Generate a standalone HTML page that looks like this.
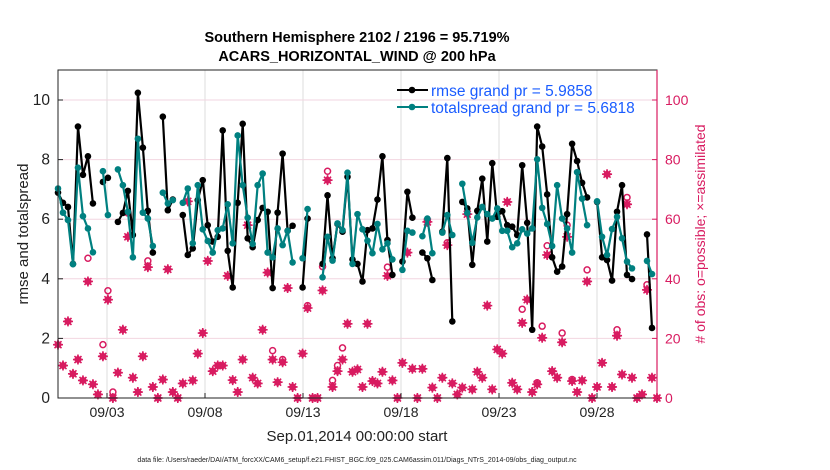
<!DOCTYPE html>
<html><head><meta charset="utf-8"><style>
body{margin:0;background:#fff;}
svg{display:block;font-family:"Liberation Sans",Arial,sans-serif;}
</style></head><body>
<svg id="chart" width="830" height="470">
<text x="357" y="42" text-anchor="middle" font-size="14.5" font-weight="bold">Southern Hemisphere 2102 / 2196 = 95.719%</text>
<text x="357" y="61" text-anchor="middle" font-size="14.5" font-weight="bold">ACARS_HORIZONTAL_WIND @ 200 hPa</text>
<g id="grid"></g>
<g id="marks"></g>
<rect x="58" y="70" width="599" height="328" fill="none" stroke="#222" stroke-width="1"/>
<line x1="657" y1="70" x2="657" y2="398" stroke="#d81b60" stroke-width="1.2"/>
<g id="axes"></g>
<text transform="translate(28,234) rotate(-90)" text-anchor="middle" font-size="15" fill="#222">rmse and totalspread</text>
<text transform="translate(705,234) rotate(-90)" text-anchor="middle" font-size="14" fill="#d81b60"># of obs: o=possible; ×=assimilated</text>
<text x="357" y="441" text-anchor="middle" font-size="15" fill="#222">Sep.01,2014 00:00:00 start</text>
<text x="357" y="462" text-anchor="middle" font-size="7" fill="#222">data file: /Users/raeder/DAI/ATM_forcXX/CAM6_setup/f.e21.FHIST_BGC.f09_025.CAM6assim.011/Diags_NTrS_2014-09/obs_diag_output.nc</text>
<g>
<g>
<line x1="397" y1="90" x2="428" y2="90" stroke="#000" stroke-width="2"/><circle cx="412" cy="90" r="3.3" fill="#000"/>
<text x="431" y="96" font-size="15.5" fill="#1a5cff">rmse grand pr = 5.9858</text></g>
<g>
<line x1="397" y1="107" x2="428" y2="107" stroke="#008080" stroke-width="2"/><circle cx="412" cy="107" r="3.3" fill="#008080"/>
<text x="431" y="113" font-size="15.5" fill="#1a5cff">totalspread grand pr = 5.6818</text></g>
</g>
</svg>
<script>
const rmse=[6.89,6.55,6.41,4.50,9.11,7.49,8.11,6.53,null,7.25,7.39,null,5.91,6.21,6.95,5.47,10.24,8.40,6.28,4.88,null,9.44,6.30,6.66,null,6.14,4.80,5.02,6.64,7.31,5.80,5.25,5.41,8.98,4.94,3.71,6.55,9.20,5.36,5.06,5.97,6.38,6.25,3.69,6.22,8.20,5.61,5.78,null,3.71,6.02,null,null,4.50,6.80,4.69,5.84,5.58,7.42,4.65,4.50,3.91,5.63,5.69,6.66,8.11,5.30,4.13,null,4.58,6.92,6.05,null,4.88,4.69,3.96,null,5.58,8.05,2.57,null,6.58,6.36,4.47,6.28,7.36,5.25,7.88,6.08,6.27,5.80,5.75,5.47,7.81,5.88,2.29,9.11,8.44,6.83,4.72,4.24,4.41,6.17,8.53,7.95,7.22,6.73,null,6.58,4.72,4.63,3.94,6.25,7.14,4.13,3.99,null,null,5.49,2.35,null];
const spread=[7.03,6.22,5.97,4.49,7.73,6.10,5.69,4.89,null,7.61,6.14,null,7.67,7.14,6.25,4.72,8.70,6.22,6.02,5.10,null,6.89,6.53,6.64,null,6.55,7.03,5.19,7.14,5.66,5.27,4.88,5.63,5.69,6.50,5.19,8.81,7.14,6.05,5.17,7.14,7.53,4.88,4.72,5.69,5.13,5.61,4.55,null,4.69,6.34,null,null,4.05,5.41,4.61,5.86,5.63,7.56,4.50,6.17,5.66,5.28,4.86,5.84,4.99,5.19,4.65,null,4.30,5.61,5.55,null,5.43,6.02,4.86,null,5.55,6.14,5.47,null,7.19,6.21,5.21,6.06,6.41,6.17,6.02,6.36,5.61,5.61,5.06,5.19,5.66,5.52,5.69,8.01,6.38,5.84,5.10,7.14,6.02,5.69,4.88,7.58,6.69,5.80,null,6.60,5.41,4.80,5.67,6.08,5.36,4.58,4.35,null,null,4.60,4.16,null];
const assimilated=[17.9,10.9,25.7,8.1,12.9,5.9,39.1,4.6,1.2,14.0,33.0,0,8.5,22.9,54.1,6.8,2.0,14.0,43.9,3.7,0,6.2,43.2,2.0,0,4.9,66.0,5.9,14.9,21.8,46.0,9.0,10.9,10.9,41.0,6.0,2.0,12.9,58.0,6.8,4.9,22.9,42.1,12.9,5.3,12.0,36.9,3.7,0,14.9,30.2,0,0,36.1,73.1,3.7,9.0,12.9,24.9,8.8,9.6,3.7,24.9,5.7,4.9,8.8,41.0,5.9,0,11.8,48.8,9.8,0,9.8,59.1,3.5,0,6.8,51.3,4.9,1.2,3.5,61.7,2.9,8.8,6.8,31.0,2.9,16.3,14.9,65.8,5.1,2.9,25.2,33.0,2.0,4.6,20.2,48.0,9.0,6.8,18.7,54.1,5.7,2.0,5.9,39.1,0,3.7,11.8,75.1,3.7,20.9,7.9,65.0,6.8,0,1.2,36.3,6.8,0];
const possibleIdx=[6,9,10,11,14,18,43,45,50,53,54,55,56,57,66,74,78,93,96,97,98,101,102,103,106,112,114,118];
const possibleVal=[46.9,17.9,36.0,2.0,62.1,46.0,15.9,12.9,31.0,44.1,76.1,5.9,10.9,16.8,43.9,59.7,52.1,29.8,5.1,24.1,51.1,21.8,58.0,6.2,43.0,22.9,67.3,38.0];
const tickDays=[2,7,12,17,22,27];
const tickLabels=["09/03","09/08","09/13","09/18","09/23","09/28"];
const leftTicks=[0,2,4,6,8,10];
const rightTicks=[0,20,40,60,80,100];
const firstDay=-0.5, stepDay=30.56/120;

const NS="http://www.w3.org/2000/svg";
const xDay=d=>107+(d-2)*19.6;
const xIdx=i=>xDay(firstDay+i*stepDay);
const yL=v=>398-v*29.8;
const yR=v=>398-v*2.98;
function mk(tag,attrs,parent){const e=document.createElementNS(NS,tag);for(const k in attrs)e.setAttribute(k,attrs[k]);parent.appendChild(e);return e;}
const grid=document.getElementById('grid'),marks=document.getElementById('marks'),axes=document.getElementById('axes');
tickDays.forEach((d,k)=>{
  const g=mk('line',{x1:xDay(d),x2:xDay(d),y1:70,y2:398,stroke:'#ddd','stroke-width':1},grid);
  
  
  const t=mk('line',{x1:xDay(d),x2:xDay(d),y1:398,y2:393,stroke:'#222'},axes);
  
  
  const l=mk('text',{x:xDay(d),y:417,'text-anchor':'middle','font-size':14,fill:'#222'},axes);
  l.textContent=tickLabels[k];
  
  
});
rightTicks.forEach(v=>{
  if(v>0&&v<110){const g=mk('line',{x1:58,x2:657,y1:yR(v),y2:yR(v),stroke:'#f2d6e0','stroke-width':1},grid);
  
  }
  const l=mk('text',{x:665,y:yR(v)+5,'font-size':14,fill:'#d81b60'},axes);
  l.textContent=v;
  
  
  const t=mk('line',{x1:652,x2:657,y1:yR(v),y2:yR(v),stroke:'#d81b60'},axes);
  
  
});
leftTicks.forEach(v=>{
  const l=mk('text',{x:50,y:yL(v)+5,'text-anchor':'end','font-size':15.5,fill:'#222'},axes);
  l.textContent=v;
  
  
  const t=mk('line',{x1:58,x2:63,y1:yL(v),y2:yL(v),stroke:'#222'},axes);
  
  
});
const red='#d81b60';
assimilated.forEach((v,i)=>{
  if(v==null)return;
  const x=xIdx(i),y=yR(v);
  const g=mk('g',{},marks);
  
  
  mk('path',{d:`M${x-4.5},${y}L${x},${y-4.5}L${x+4.5},${y}L${x},${y+4.5}Z`,fill:red},g);
  mk('path',{d:`M${x-5},${y}H${x+5}M${x},${y-5}V${y+5}M${x-3.5},${y-3.5}L${x+3.5},${y+3.5}M${x-3.5},${y+3.5}L${x+3.5},${y-3.5}`,stroke:red,'stroke-width':1.6},g);
});
possibleIdx.forEach((i,k)=>{
  const c=mk('circle',{cx:xIdx(i),cy:yR(possibleVal[k]),r:3,fill:'none',stroke:red,'stroke-width':1.5},marks);
  
  
});
function series(arr,color,name){
  let d='',pen=false;
  arr.forEach((v,i)=>{if(v==null){pen=false;return;}d+=(pen?'L':'M')+xIdx(i).toFixed(1)+','+yL(v).toFixed(1);pen=true;});
  const p=mk('path',{d:d,fill:'none',stroke:color,'stroke-width':2.2,'stroke-linejoin':'round'},marks);
  
  
  arr.forEach((v,i)=>{if(v==null)return;
    const c=mk('circle',{cx:xIdx(i),cy:yL(v),r:3.3,fill:color},marks);
    
    
  });
}
series(rmse,'#000','rmse');
series(spread,'#008080','totalspread');
</script>
</body></html>
